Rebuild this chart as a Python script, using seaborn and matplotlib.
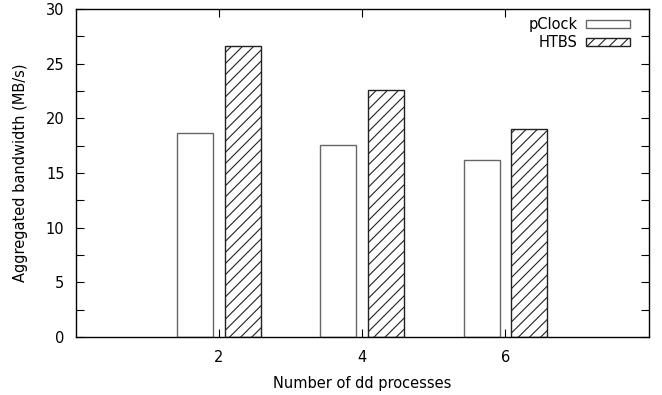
import seaborn as sns
import matplotlib.pyplot as plt
import pandas as pd
from matplotlib.ticker import MultipleLocator

# Values
processes = [2, 4, 6]
pclock = [18.7, 17.6, 16.2]
htbs = [26.6, 22.6, 19.0]

df = pd.DataFrame({
    'processes': processes * 2,
    'bandwidth': pclock + htbs,
    'scheme': ['pClock'] * 3 + ['HTBS'] * 3,
})

sns.set_style("white")
plt.rcParams['font.family'] = ['DejaVu Sans']
plt.rcParams['hatch.linewidth'] = 0.8
plt.rcParams['text.color'] = 'black'
plt.rcParams['axes.labelcolor'] = 'black'
plt.rcParams['xtick.color'] = 'black'
plt.rcParams['ytick.color'] = 'black'

fig = plt.figure(figsize=(6.62, 3.95), dpi=100)
ax = fig.add_axes([0.1143, 0.1468, 0.8657, 0.8304])

sns.barplot(data=df, x='processes', y='bandwidth', hue='scheme',
            hue_order=['pClock', 'HTBS'], palette=['white', 'white'],
            native_scale=True, width=2 / 3, gap=0.25, linewidth=1.0,
            edgecolor='#555555', ax=ax, legend=False)

# pClock: plain boxes, HTBS: hatched boxes
for bar in ax.containers[0]:
    bar.set_edgecolor('#666666')
for bar in ax.containers[1]:
    bar.set_edgecolor('#222222')
    bar.set_hatch('///')

ax.set_xlim(0, 8)
ax.set_ylim(0, 30)
ax.set_xticks(processes)
ax.yaxis.set_major_locator(MultipleLocator(5))
ax.yaxis.set_minor_locator(MultipleLocator(2.5))
ax.tick_params(which='both', direction='in', top=True, right=True,
               left=True, bottom=True,
               length=6, width=0.8, labelsize=10.5, color='black')
ax.tick_params(axis='x', pad=9)
ax.tick_params(axis='y', pad=8)
for s in ax.spines.values():
    s.set_color('black')
    s.set_linewidth(1.0)

ax.set_xlabel('Number of dd processes', fontsize=10.5, labelpad=8)
ax.set_ylabel('Aggregated bandwidth (MB/s)', fontsize=10.5, labelpad=13)

handles = [ax.containers[0][0], ax.containers[1][0]]
leg = ax.legend(handles, ['pClock', 'HTBS'], loc='upper right', frameon=False,
                markerfirst=False, handlelength=3.0, handleheight=0.5,
                handletextpad=0.6, labelspacing=0.2, fontsize=10.5,
                bbox_to_anchor=(0.99, 1.015))

fig.savefig('out.png', dpi=100)
